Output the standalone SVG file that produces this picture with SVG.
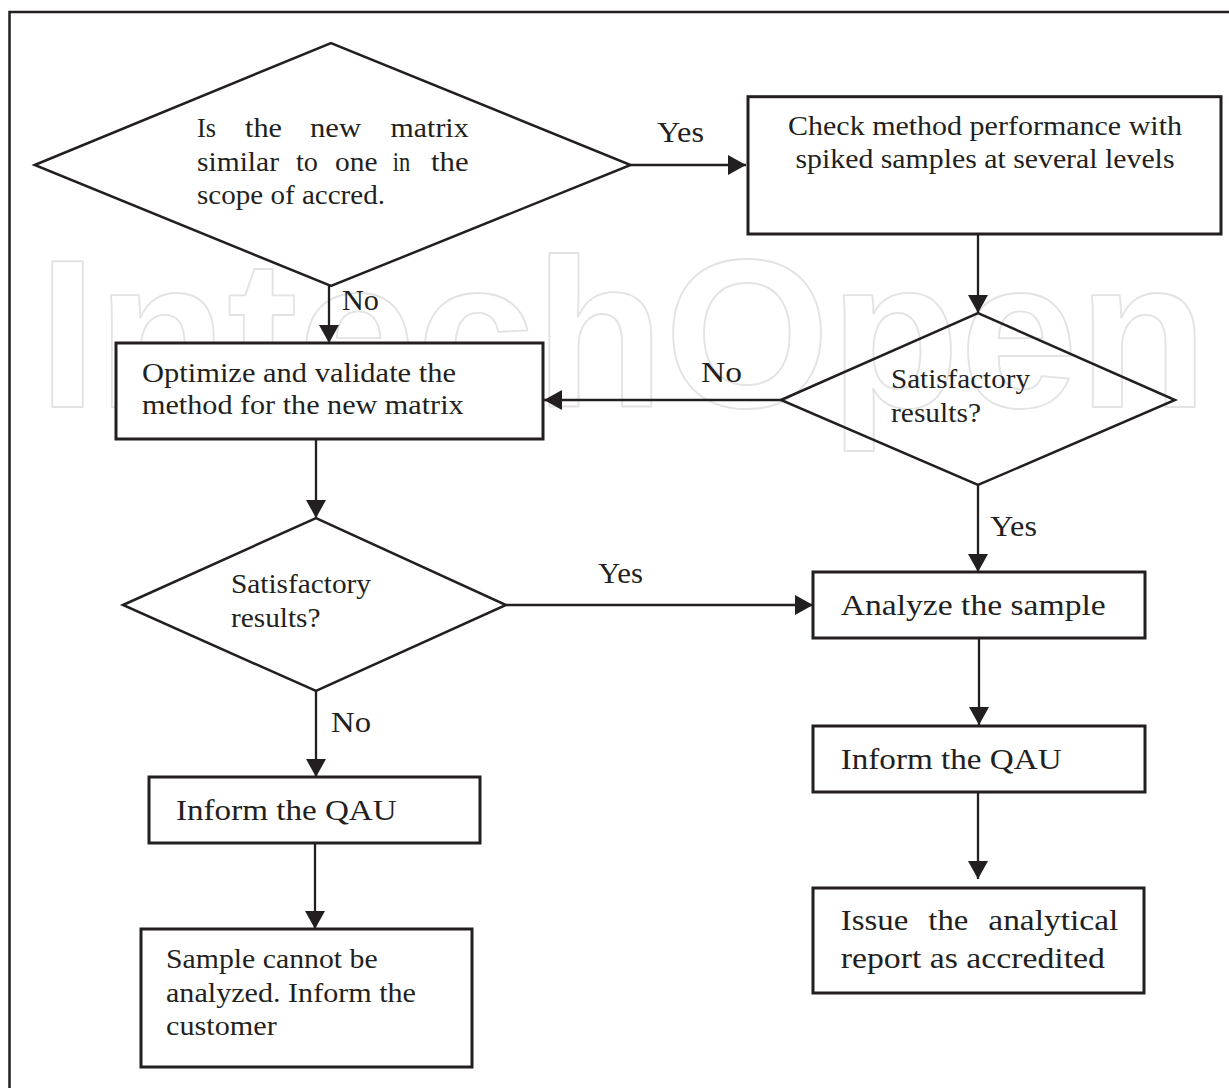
<svg xmlns="http://www.w3.org/2000/svg" width="1229" height="1088" viewBox="0 0 1229 1088">
<style>
.box{fill:#fff;stroke:#231f20;stroke-width:3}
.dia{fill:none;stroke:#231f20;stroke-width:2.5;stroke-linejoin:miter}
.con{fill:none;stroke:#231f20;stroke-width:2.3;marker-end:url(#ah)}
.t{font-family:"Liberation Serif","Times New Roman",serif;fill:#231f20}
.m{font-size:27px}
.l{font-size:30px}
.lb{font-size:29px}
.wm{font-family:"Liberation Sans",Arial,sans-serif;font-weight:bold;font-size:212px;fill:none;stroke:#e3e3e3;stroke-width:1.8;stroke-linejoin:round}
</style>
<defs>
<marker id="ah" markerUnits="userSpaceOnUse" markerWidth="18" markerHeight="20" refX="18" refY="10" orient="auto">
<path d="M0,0 L18,10 L0,20 Z" fill="#231f20"/>
</marker>
</defs>
<rect x="0" y="0" width="1229" height="1088" fill="#fff"/>
<text class="wm" x="38" y="407" textLength="1170" lengthAdjust="spacingAndGlyphs">IntechOpen</text>
<path d="M9.5,1088 V12 H1229" fill="none" stroke="#231f20" stroke-width="2.5"/>

<g id="connectors">
<line class="con" x1="630.6" y1="165" x2="746" y2="165"/>
<line class="con" x1="329" y1="286" x2="329" y2="343"/>
<line class="con" x1="978" y1="234" x2="978" y2="313"/>
<line class="con" x1="781" y1="400" x2="544" y2="400"/>
<line class="con" x1="316" y1="439" x2="316" y2="518"/>
<line class="con" x1="978" y1="485" x2="978" y2="572"/>
<line class="con" x1="506" y1="605" x2="813" y2="605"/>
<line class="con" x1="316" y1="691" x2="316" y2="777"/>
<line class="con" x1="979" y1="638" x2="979" y2="725"/>
<line class="con" x1="315" y1="843" x2="315" y2="929"/>
<line class="con" x1="978" y1="792" x2="978" y2="879"/>
</g>

<g id="labels">
<text class="t lb" x="657" y="142" textLength="47" lengthAdjust="spacingAndGlyphs">Yes</text>
<text class="t lb" x="342" y="310" textLength="37" lengthAdjust="spacingAndGlyphs">No</text>
<text class="t lb" x="701" y="382" textLength="41" lengthAdjust="spacingAndGlyphs">No</text>
<text class="t lb" x="990" y="536" textLength="47" lengthAdjust="spacingAndGlyphs">Yes</text>
<text class="t lb" x="598" y="583" textLength="45" lengthAdjust="spacingAndGlyphs">Yes</text>
<text class="t lb" x="331" y="732" textLength="40" lengthAdjust="spacingAndGlyphs">No</text>
</g>

<g id="decision-matrix">
<polygon class="dia" points="34.7,165 331,43 630.6,165 331,286"/>
<text class="t m" x="197" y="137" textLength="19" lengthAdjust="spacingAndGlyphs">Is</text>
<text class="t m" x="245" y="137" textLength="37" lengthAdjust="spacingAndGlyphs">the</text>
<text class="t m" x="310" y="137" textLength="51" lengthAdjust="spacingAndGlyphs">new</text>
<text class="t m" x="390.6" y="137" textLength="78" lengthAdjust="spacingAndGlyphs">matrix</text>
<text class="t m" x="197" y="171" textLength="82" lengthAdjust="spacingAndGlyphs">similar</text>
<text class="t m" x="296" y="171" textLength="22" lengthAdjust="spacingAndGlyphs">to</text>
<text class="t m" x="335" y="171" textLength="42.5" lengthAdjust="spacingAndGlyphs">one</text>
<text class="t m" x="392.7" y="171" textLength="17.5" lengthAdjust="spacingAndGlyphs">in</text>
<text class="t m" x="431" y="171" textLength="37.6" lengthAdjust="spacingAndGlyphs">the</text>
<text class="t m" x="197" y="204" textLength="188" lengthAdjust="spacingAndGlyphs">scope of accred.</text>
</g>

<g id="check-performance">
<rect class="box" x="748" y="96.7" width="473" height="137.3"/>
<text class="t m" x="788" y="135" textLength="394" lengthAdjust="spacingAndGlyphs">Check method performance with</text>
<text class="t m" x="795.5" y="168" textLength="379" lengthAdjust="spacingAndGlyphs">spiked samples at several levels</text>
</g>

<g id="optimize-validate">
<rect class="box" x="116" y="343" width="427" height="96"/>
<text class="t m" x="142" y="382" textLength="314" lengthAdjust="spacingAndGlyphs">Optimize and validate the</text>
<text class="t m" x="142" y="414" textLength="321.6" lengthAdjust="spacingAndGlyphs">method for the new matrix</text>
</g>

<g id="decision-right">
<polygon class="dia" points="781,400 978,313 1175,400 978,485"/>
<text class="t m" x="891" y="388" textLength="139" lengthAdjust="spacingAndGlyphs">Satisfactory</text>
<text class="t m" x="891" y="422" textLength="90" lengthAdjust="spacingAndGlyphs">results?</text>
</g>

<g id="decision-left">
<polygon class="dia" points="123,605 316,518 506,605 316,691"/>
<text class="t m" x="231" y="593" textLength="140" lengthAdjust="spacingAndGlyphs">Satisfactory</text>
<text class="t m" x="231" y="627" textLength="89.5" lengthAdjust="spacingAndGlyphs">results?</text>
</g>

<g id="analyze-sample">
<rect class="box" x="813" y="572" width="332" height="66"/>
<text class="t l" x="840.7" y="615" textLength="265" lengthAdjust="spacingAndGlyphs">Analyze the sample</text>
</g>

<g id="inform-qau-right">
<rect class="box" x="813" y="726" width="332" height="66"/>
<text class="t l" x="840.7" y="769" textLength="221" lengthAdjust="spacingAndGlyphs">Inform the QAU</text>
</g>

<g id="issue-report">
<rect class="box" x="813" y="888" width="331" height="105"/>
<text class="t l" x="840.7" y="930" textLength="67.6" lengthAdjust="spacingAndGlyphs">Issue</text>
<text class="t l" x="928.3" y="930" textLength="40" lengthAdjust="spacingAndGlyphs">the</text>
<text class="t l" x="988.3" y="930" textLength="130" lengthAdjust="spacingAndGlyphs">analytical</text>
<text class="t l" x="840.7" y="967.7" textLength="264.3" lengthAdjust="spacingAndGlyphs">report as accredited</text>
</g>

<g id="inform-qau-left">
<rect class="box" x="149" y="777" width="331" height="66"/>
<text class="t l" x="176" y="820" textLength="220.6" lengthAdjust="spacingAndGlyphs">Inform the QAU</text>
</g>

<g id="sample-not-analyzed">
<rect class="box" x="141" y="929" width="331" height="138"/>
<text class="t m" x="166" y="968" textLength="211.6" lengthAdjust="spacingAndGlyphs">Sample cannot be</text>
<text class="t m" x="166" y="1001.7" textLength="250" lengthAdjust="spacingAndGlyphs">analyzed. Inform the</text>
<text class="t m" x="166" y="1035" textLength="110.8" lengthAdjust="spacingAndGlyphs">customer</text>
</g>
</svg>
